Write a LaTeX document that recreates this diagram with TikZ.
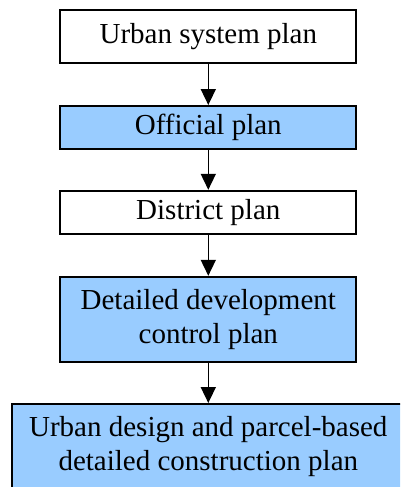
\documentclass[tikz,border=0pt]{standalone}
\usepackage{fontspec}
\setmainfont{Liberation Serif}
\usetikzlibrary{arrows.meta}
\definecolor{planblue}{HTML}{99CCFF}
\begin{document}
\begin{tikzpicture}[x=1pt,y=-1pt,
  planbox/.style={draw=black,line width=2pt,rectangle,inner sep=0pt,
    minimum width=296pt,align=center,
    font=\fontsize{29}{34}\selectfont},
  flow/.style={line width=1.6pt,-{Triangle[length=16pt,width=15pt]}}]
  \useasboundingbox (0,0) rectangle (400,487);
  \clip (0,0) rectangle (400,487);
  \node[planbox,fill=white,minimum height=53pt] (usp) at (208.3,36.5) {Urban system plan};
  \node[planbox,fill=planblue,minimum height=43pt] (off) at (208.3,127.5) {Official plan};
  \node[planbox,fill=white,minimum height=43pt] (dis) at (208.3,212.3) {District plan};
  \node[planbox,fill=planblue,minimum height=85pt] (ddc) at (208.3,319.3) {Detailed development\\control plan};
  \node[planbox,fill=planblue,minimum height=86pt,minimum width=393pt] (udp) at (208.3,447) {Urban design and parcel-based\\detailed construction plan};
  \draw[flow] (usp.south) -- (off.north);
  \draw[flow] (off.south) -- (dis.north);
  \draw[flow] (dis.south) -- (ddc.north);
  \draw[flow] (ddc.south) -- (udp.north);
\end{tikzpicture}
\end{document}
